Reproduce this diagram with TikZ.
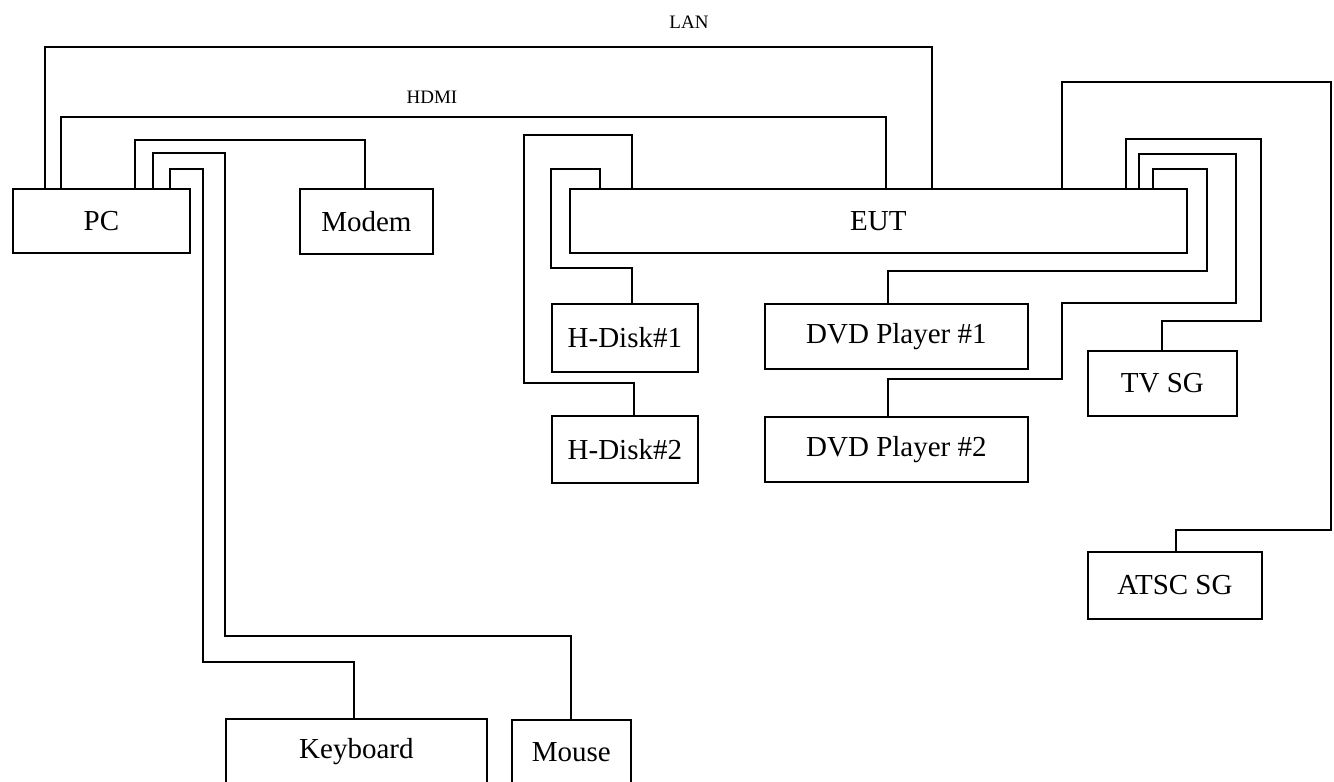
\documentclass[tikz,border=0pt]{standalone}
\usepackage{fontspec}
\setmainfont{Liberation Serif}
\begin{document}
\begin{tikzpicture}[x=0.5pt, y=-0.5pt, line width=0.9pt,
        unit/.style={draw, rectangle, anchor=north west, inner sep=0pt, font=\fontsize{14.5}{17}\selectfont},
        cable/.style={font=\fontsize{9.5}{11}\selectfont}]
    \useasboundingbox (0,0) rectangle (1334,782);
    \node[unit, minimum width=88.5pt, minimum height=32pt] (PC) at (12,188) {PC};
    \node[unit, minimum width=66.5pt, minimum height=32.5pt] (Modem) at (299,188) {Modem};
    \node[unit, minimum width=308.5pt, minimum height=32pt] (EUT) at (569,188) {EUT};
    \node[unit, minimum width=73pt, minimum height=34pt] (HD1) at (551,303) {H-Disk\#1};
    \node[unit, minimum width=73pt, minimum height=33.5pt] (HD2) at (551,415) {H-Disk\#2};
    \node[unit, minimum width=131.5pt, minimum height=32.5pt] (DVD1) at (764,303) {DVD Player \#1};
    \node[unit, minimum width=131.5pt, minimum height=32.5pt] (DVD2) at (764,416) {DVD Player \#2};
    \node[unit, minimum width=74.5pt, minimum height=32.5pt] (TV) at (1087,350) {TV SG};
    \node[unit, minimum width=87pt, minimum height=33.5pt] (ATSC) at (1087,551) {ATSC SG};
    \node[unit, minimum width=130.5pt, minimum height=32.5pt] (Keyboard) at (225,718) {Keyboard};
    \node[unit, minimum width=59.5pt, minimum height=32.5pt] (Mouse) at (511,719) {Mouse};
    \node[cable] (lan) at (689,22) {LAN};
    \node[cable] (hdmi) at (432,97) {HDMI};
    \draw (PC.north -| 45,0) |- (932,47) -- (EUT.north -| 932,0);
    \draw (PC.north -| 61,0) |- (886,117) -- (EUT.north -| 886,0);
    \draw (PC.north -| 135,0) |- (365,140) -- (Modem.north -| 365,0);
    \draw (PC.north -| 153,0) |- (225,153) |- (571,636) -- (Mouse.north -| 571,0);
    \draw (PC.north -| 170,0) |- (203,169) |- (354,662) -- (Keyboard.north -| 354,0);
    \draw (EUT.north -| 632,0) |- (524,135) |- (634,383) -- (HD2.north -| 634,0);
    \draw (EUT.north -| 600,0) |- (551,169) |- (632,268) -- (HD1.north -| 632,0);
    \draw (EUT.north -| 1062,0) |- (1331,82) |- (1176,530) -- (ATSC.north -| 1176,0);
    \draw (EUT.north -| 1126,0) |- (1261,139) |- (1162,321) -- (TV.north -| 1162,0);
    \draw (EUT.north -| 1139,0) |- (1236,154) |- (1062,303) |- (888,379) -- (DVD2.north -| 888,0);
    \draw (EUT.north -| 1153,0) |- (1207,169) |- (888,271) -- (DVD1.north -| 888,0);
\end{tikzpicture}
\end{document}
